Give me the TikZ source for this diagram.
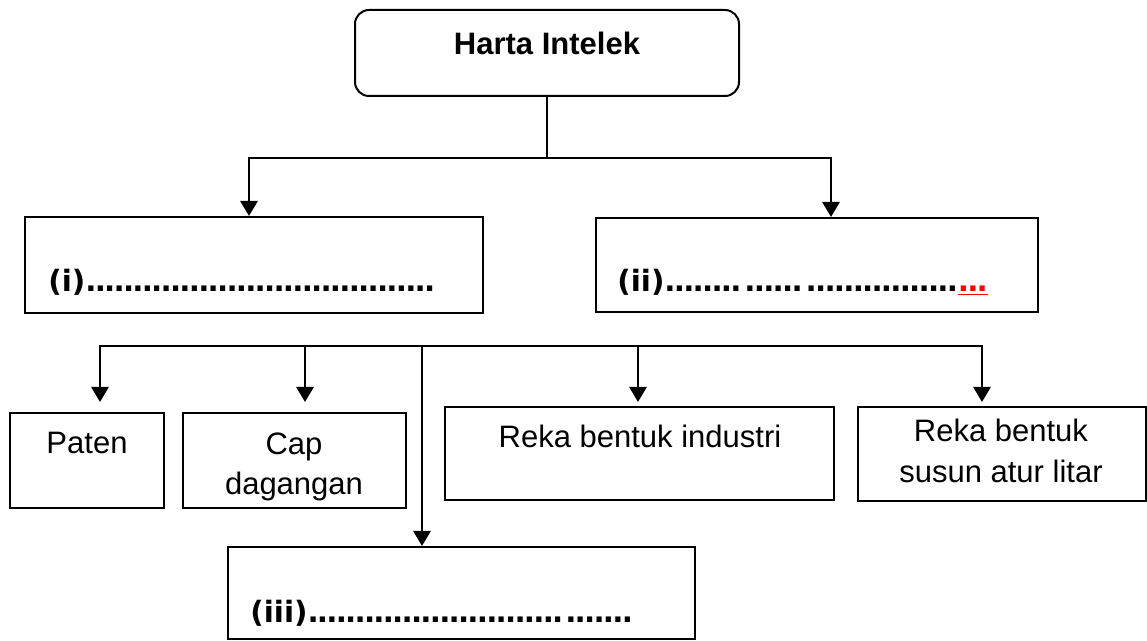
\documentclass[tikz,border=0pt]{standalone}
\usepackage{fontspec}
\setmainfont{Liberation Sans}
\newfontfamily\lblfont{DejaVu Sans}
\newfontfamily\dotfont{DejaVu Sans}[LetterSpace=-6]
\usetikzlibrary{arrows.meta}
\begin{document}
\begin{tikzpicture}[x=0.5pt,y=-0.5pt,>={Triangle[length=7.5pt,width=8.5pt]},
  box/.style={draw,line width=1pt,inner sep=0pt},
  txt/.style={anchor=base,align=center,inner sep=0pt,font=\fontsize{15.5}{20.5}\selectfont},
  lbl/.style={anchor=base west,inner sep=0pt,font=\fontsize{14.7}{18}\selectfont\bfseries},
  bus/.style={line width=1.4pt}]
\useasboundingbox (0,0) rectangle (1147,641);
\node[box,rounded corners=7pt,minimum width=192pt,minimum height=43pt] (top) at (547,53) {};
\node[txt,font=\fontsize{15.5}{20.5}\selectfont\bfseries] (ttop) at (547,55) {Harta Intelek};
\node[box,minimum width=229pt,minimum height=48pt] (boxi) at (254,265) {};
\node[box,minimum width=221pt,minimum height=47pt] (boxii) at (817,265) {};
\node[lbl] (li) at (48,292) {\lblfont(i)\dotfont.....................................};
\node[lbl] (lii) at (617,292) {\lblfont(ii)\dotfont........\hspace{1.5pt}......\hspace{1.5pt}................{\color{red}\underline{...}}};
\node[box,minimum width=77pt,minimum height=47.5pt] (paten) at (87,460.5) {};
\node[txt] (tpaten) at (87,454) {Paten};
\node[box,minimum width=111.5pt,minimum height=47.5pt] (cap) at (294.5,460.5) {};
\node[txt] (tcap) at (294,495) {Cap\\dagangan};
\node[box,minimum width=194.5pt,minimum height=46.5pt] (ind) at (639.5,453.5) {};
\node[txt] (tind) at (640,448) {Reka bentuk industri};
\node[box,minimum width=144pt,minimum height=47pt] (susun) at (1002,454) {};
\node[txt] (tsusun) at (1001,483) {Reka bentuk\\susun atur litar};
\node[box,minimum width=233.5pt,minimum height=46pt] (boxiii) at (461.5,593) {};
\node[lbl] (liii) at (250,623) {\lblfont(iii)\dotfont...........................\hspace{1pt}.......};
\coordinate (bus1) at (547,158);\coordinate (ini) at (249,216);\coordinate (inii) at (831,217);
\draw[line width=0.6pt] (top.south) -- (bus1);
\draw[->,bus] (bus1) -| (ini);\draw[->,bus] (bus1) -| (inii);
\coordinate (bus2) at (422,346);
\coordinate (inpaten) at (100,402);\coordinate (incap) at (305,402);
\coordinate (inind) at (638,402);\coordinate (insusun) at (982,402);
\draw[->,bus] (bus2) -| (inpaten);\draw[->,bus] (bus2) -| (incap);
\draw[->,bus] (bus2) -| (inind);\draw[->,bus] (bus2) -| (insusun);
\draw[->,bus] (bus2) -- (bus2 |- boxiii.north);
\end{tikzpicture}
\end{document}
